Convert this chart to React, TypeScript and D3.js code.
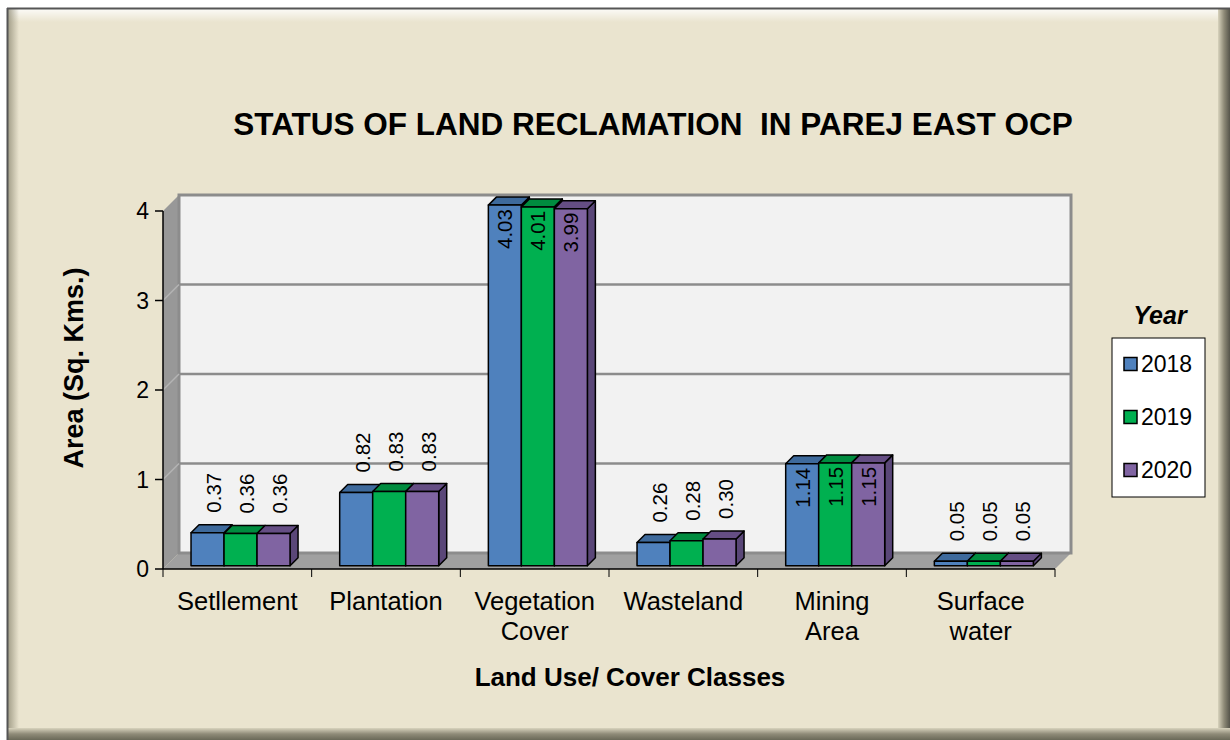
import * as d3 from "d3";

const categories = ["Settlement", "Plantation", "Vegetation Cover", "Wasteland", "Mining Area", "Surface water"];
const categoryLines = [["Setllement"], ["Plantation"], ["Vegetation", "Cover"], ["Wasteland"], ["Mining", "Area"], ["Surface", "water"]];
const years = ["2018", "2019", "2020"];
const values2018 = [0.37, 0.82, 4.03, 0.26, 1.14, 0.05];
const values2019 = [0.36, 0.83, 4.01, 0.28, 1.15, 0.05];
const values2020 = [0.36, 0.83, 3.99, 0.3, 1.15, 0.05];
const yTicks = [0, 1, 2, 3, 4];

const W = 1230;
const H = 740;
const FONT = "'Liberation Sans', Arial, sans-serif";

// plot geometry (front plane of the floor + wall depth)
const X0 = 163;
const X1 = 1055;
const Y0 = 569;
const Y4 = 211;
const DEPTH = 16;

const seriesColors = [
  { front: "#4F81BD", top: "#3E6A9C", side: "#385D8A" },
  { front: "#00B050", top: "#008C3F", side: "#007A37" },
  { front: "#8064A2", top: "#654E84", side: "#5A4778" },
];

export default function App() {
  const series = [values2018, values2019, values2020];
  const y = d3.scaleLinear().domain([0, 4]).range([Y0, Y4]);
  const x = d3.scaleBand<string>().domain(categories).range([X0, X1]);
  const bw = x.bandwidth();
  const barW = bw * 0.222;
  const barOff = DEPTH * 0.2; // bars sit a bit behind the floor front
  const barDepth = DEPTH * 0.5;
  const tickFmt = d3.format(".2f");

  const wallBack = (v: number) => y(v) - DEPTH;

  return (
    <svg
      width={W}
      height={H}
      style={{ position: "absolute", left: 0, top: 0, fontFamily: FONT }}
    >
      <defs>
        <linearGradient id="topBevel" x1="0" y1="0" x2="0" y2="1">
          <stop offset="0" stopColor="#ffffff" stopOpacity="0.9" />
          <stop offset="1" stopColor="#ffffff" stopOpacity="0" />
        </linearGradient>
        <linearGradient id="leftBevel" x1="0" y1="0" x2="1" y2="0">
          <stop offset="0" stopColor="#8a8670" stopOpacity="0.8" />
          <stop offset="1" stopColor="#8a8670" stopOpacity="0" />
        </linearGradient>
        <linearGradient id="rightShadow" x1="0" y1="0" x2="1" y2="0">
          <stop offset="0" stopColor="#d8d3bd" />
          <stop offset="0.5" stopColor="#8f8b78" />
          <stop offset="1" stopColor="#55544a" />
        </linearGradient>
        <linearGradient id="bottomShadow" x1="0" y1="0" x2="0" y2="1">
          <stop offset="0" stopColor="#d8d3bd" />
          <stop offset="0.5" stopColor="#8f8b78" />
          <stop offset="1" stopColor="#6a6958" />
        </linearGradient>
      </defs>

      {/* frame */}
      <rect x={0} y={0} width={W} height={H} fill="#ffffff" />
      <rect x={7} y={8} width={1223} height={732} fill="#EAE4CF" />
      <rect x={7} y={8} width={1211} height={14} fill="url(#topBevel)" />
      <rect x={7} y={8} width={12} height={720} fill="url(#leftBevel)" />
      <rect x={1218} y={8} width={12} height={732} fill="url(#rightShadow)" />
      <rect x={7} y={728} width={1223} height={12} fill="url(#bottomShadow)" />
      <line x1={7} y1={8.5} x2={1230} y2={8.5} stroke="#555" strokeWidth={2} />
      <line x1={7.5} y1={8} x2={7.5} y2={740} stroke="#555" strokeWidth={2} />

      {/* title */}
      <text x={653} y={135} textAnchor="middle" fontSize={31.5} fontWeight="bold" fill="#000">
        STATUS OF LAND RECLAMATION{"\u00A0\u00A0"}IN PAREJ EAST OCP
      </text>

      {/* side wall */}
      <polygon
        points={`${X0},${Y0} ${X0},${Y4} ${X0 + DEPTH},${Y4 - DEPTH} ${X0 + DEPTH},${Y0 - DEPTH}`}
        fill="#989898"
      />
      {/* floor */}
      <polygon
        points={`${X0},${Y0} ${X1},${Y0} ${X1 + DEPTH},${Y0 - DEPTH} ${X0 + DEPTH},${Y0 - DEPTH}`}
        fill="#A0A0A0"
      />
      {/* back wall */}
      <rect
        x={X0 + DEPTH}
        y={Y4 - DEPTH}
        width={X1 - X0}
        height={Y0 - Y4}
        fill="#F2F2F2"
        stroke="#8C8C8C"
        strokeWidth={3}
      />
      {yTicks.slice(1, -1).map((t) => (
        <g key={`g${t}`}>
          <line x1={X0 + DEPTH} x2={X1 + DEPTH} y1={wallBack(t)} y2={wallBack(t)} stroke="#8C8C8C" strokeWidth={2.5} />
          <line x1={X0} x2={X0 + DEPTH} y1={y(t)} y2={wallBack(t)} stroke="#B4B4B4" strokeWidth={1.5} />
        </g>
      ))}

      {/* bars */}
      {categories.map((c, ci) => {
        const groupStart = (x(c) ?? 0) + bw / 2 - (barW * 3) / 2 + barOff;
        return series.map((vals, si) => {
          const v = vals[ci];
          const col = seriesColors[si];
          const bx = groupStart + si * barW;
          const bBottom = Y0 - barOff;
          const bTop = bBottom - (Y0 - y(v));
          const d = barDepth;
          return (
            <g key={`${ci}-${si}`} stroke="#000" strokeWidth={1.5} strokeLinejoin="round">
              <polygon
                points={`${bx + barW},${bBottom} ${bx + barW + d},${bBottom - d} ${bx + barW + d},${bTop - d} ${bx + barW},${bTop}`}
                fill={col.side}
              />
              <polygon
                points={`${bx},${bTop} ${bx + d},${bTop - d} ${bx + barW + d},${bTop - d} ${bx + barW},${bTop}`}
                fill={col.top}
              />
              <rect x={bx} y={bTop} width={barW} height={bBottom - bTop} fill={col.front} />
            </g>
          );
        });
      })}

      {/* data labels */}
      {categories.map((c, ci) => {
        const groupStart = (x(c) ?? 0) + bw / 2 - (barW * 3) / 2 + barOff;
        return series.map((vals, si) => {
          const v = vals[ci];
          const bx = groupStart + si * barW;
          const bBottom = Y0 - barOff;
          const bTop = bBottom - (Y0 - y(v));
          const inside = v > 1;
          const cx = inside ? bx + barW / 2 : bx + barW / 2 + 6;
          const ty = inside ? bTop + 4 : bTop - barDepth - 12;
          return (
            <text
              key={`l${ci}-${si}`}
              transform={`translate(${cx},${ty}) rotate(-90)`}
              textAnchor={inside ? "end" : "start"}
              dy="0.36em"
              fontSize={20.5}
              fill="#000"
            >
              {tickFmt(v)}
            </text>
          );
        });
      })}

      {/* axes */}
      <line x1={X0} x2={X0} y1={Y4} y2={Y0} stroke="#000" strokeWidth={1.5} />
      {yTicks.map((t) => (
        <g key={`yt${t}`}>
          <line x1={X0 - 8} x2={X0} y1={y(t)} y2={y(t)} stroke="#000" strokeWidth={1.5} />
          <text x={X0 - 14} y={y(t)} dy="0.36em" textAnchor="end" fontSize={23} fill="#000">
            {t}
          </text>
        </g>
      ))}
      <line x1={X0} x2={X1} y1={Y0} y2={Y0} stroke="#000" strokeWidth={1.5} />
      {categories.map((c) => (
        <line key={`xt${c}`} x1={x(c) ?? 0} x2={x(c) ?? 0} y1={Y0} y2={Y0 + 8} stroke="#000" strokeWidth={1} />
      ))}
      <line x1={X1} x2={X1} y1={Y0} y2={Y0 + 8} stroke="#000" strokeWidth={1} />
      {categories.map((c, ci) => (
        <text key={`xl${c}`} x={(x(c) ?? 0) + bw / 2} y={610} textAnchor="middle" fontSize={25.5} fill="#000">
          {categoryLines[ci].map((ln, li) => (
            <tspan key={li} x={(x(c) ?? 0) + bw / 2} dy={li === 0 ? 0 : 30}>
              {ln}
            </tspan>
          ))}
        </text>
      ))}

      {/* axis titles */}
      <text x={630} y={686} textAnchor="middle" fontSize={26} fontWeight="bold" fill="#000">
        Land Use/ Cover Classes
      </text>
      <text
        transform={`translate(83,${368}) rotate(-90)`}
        textAnchor="middle"
        fontSize={27}
        fontWeight="bold"
        fill="#000"
      >
        Area (Sq. Kms.)
      </text>

      {/* legend */}
      <text x={1160} y={324} textAnchor="middle" fontSize={25} fontWeight="bold" fontStyle="italic" fill="#000">
        Year
      </text>
      <rect x={1112} y={338} width={93} height={159} fill="#ffffff" stroke="#000" strokeWidth={1} />
      {years.map((yr, i) => (
        <g key={yr} transform={`translate(1124,${364 + i * 53})`}>
          <rect x={0} y={-6.5} width={13} height={13} fill={seriesColors[i].front} stroke="#000" strokeWidth={1.5} />
          <text x={17} y={0} dy="0.36em" fontSize={23} fill="#000">
            {yr}
          </text>
        </g>
      ))}
    </svg>
  );
}
